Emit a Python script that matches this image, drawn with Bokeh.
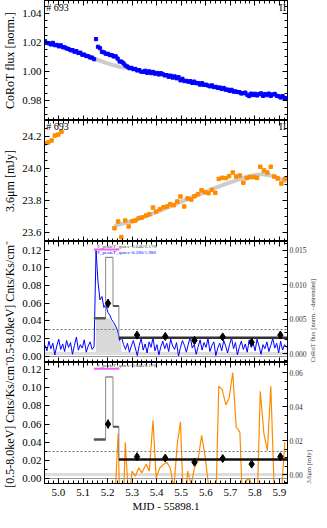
import math
from bokeh.plotting import figure
from bokeh.models import (Range1d, LinearAxis, SingleIntervalTicker, PrintfTickFormatter,
                          CustomJSTickFormatter, Label)
from bokeh.layouts import column
from bokeh.embed import file_html
from bokeh.resources import INLINE

# ---------------- data ----------------
corot_t = [
    4.945, 4.953, 4.961, 4.969, 4.977, 4.985, 4.993, 5.001, 5.009, 5.017,
    5.025, 5.033, 5.041, 5.049, 5.057, 5.065, 5.073, 5.081, 5.089, 5.097,
    5.105, 5.113, 5.121, 5.129, 5.137, 5.145, 5.153, 5.161, 5.169, 5.177,
    5.185, 5.193, 5.201, 5.209, 5.217, 5.225, 5.233, 5.241, 5.249, 5.257,
    5.265, 5.273, 5.281, 5.289, 5.297, 5.305, 5.313, 5.321, 5.329, 5.337,
    5.345, 5.353, 5.361, 5.369, 5.377, 5.385, 5.393, 5.401, 5.409, 5.417,
    5.425, 5.433, 5.441, 5.449, 5.457, 5.465, 5.473, 5.481, 5.489, 5.497,
    5.505, 5.513, 5.521, 5.529, 5.537, 5.545, 5.553, 5.561, 5.569, 5.577,
    5.585, 5.593, 5.601, 5.609, 5.617, 5.625, 5.633, 5.641, 5.649, 5.657,
    5.665, 5.673, 5.681, 5.689, 5.697, 5.705, 5.713, 5.721, 5.729, 5.737,
    5.745, 5.753, 5.761, 5.769, 5.777, 5.785, 5.793, 5.801, 5.809, 5.817,
    5.825, 5.833, 5.841, 5.849, 5.857, 5.865, 5.873, 5.881, 5.889, 5.897,
    5.905, 5.913, 5.921, 5.929,
]
corot_flux = [
    1.0208, 1.0196, 1.0194, 1.0186, 1.0197, 1.0181, 1.0183, 1.0173, 1.0180, 1.0167,
    1.0166, 1.0158, 1.0155, 1.0146, 1.0147, 1.0136, 1.0139, 1.0127, 1.0129, 1.0115,
    1.0116, 1.0106, 1.0105, 1.0096, 1.0095, 1.0084, 1.0223, 1.0170, 1.0160, 1.0135,
    1.0131, 1.0122, 1.0121, 1.0113, 1.0112, 1.0103, 1.0104, 1.0088, 1.0068, 1.0067,
    1.0055, 1.0040, 1.0033, 1.0022, 1.0024, 1.0015, 1.0017, 1.0006, 1.0009, 0.9998,
    0.9996, 1.0004, 0.9990, 1.0000, 0.9988, 0.9996, 0.9984, 0.9989, 0.9978, 0.9987,
    0.9980, 0.9972, 0.9974, 0.9962, 0.9970, 0.9957, 0.9965, 0.9952, 0.9960, 0.9938,
    0.9948, 0.9933, 0.9934, 0.9928, 0.9932, 0.9920, 0.9929, 0.9918, 0.9919, 0.9908,
    0.9918, 0.9906, 0.9908, 0.9902, 0.9896, 0.9903, 0.9891, 0.9893, 0.9886, 0.9888,
    0.9878, 0.9885, 0.9873, 0.9874, 0.9865, 0.9872, 0.9860, 0.9861, 0.9857, 0.9856,
    0.9847, 0.9849, 0.9853, 0.9838, 0.9829, 0.9846, 0.9836, 0.9845, 0.9833, 0.9842,
    0.9848, 0.9830, 0.9843, 0.9835, 0.9846, 0.9830, 0.9840, 0.9844, 0.9831, 0.9828,
    0.9819, 0.9828, 0.9816, 0.9813,
]
corot_detrended = [
    0.0012, 0.0004, 0.0018, 0.0007, 0.0015, -0.0002, 0.0011, 0.0021, 0.0006, 0.0014,
    0.0003, 0.0019, 0.0009, 0.0016, -0.0001, 0.0012, 0.0024, 0.0005, 0.0013, 0.0008,
    0.0020, 0.0002, 0.0011, 0.0017, 0.0006, 0.0010, 0.0150, 0.0104, 0.0078, 0.0083,
    0.0067, 0.0072, 0.0060, 0.0056, 0.0049, 0.0045, 0.0040, 0.0033, 0.0019, 0.0024,
    0.0013, 0.0006, 0.0015, 0.0002, 0.0011, 0.0019, 0.0008, -0.0003, 0.0012, 0.0022,
    0.0005, 0.0014, 0.0001, 0.0017, 0.0009, 0.0023, 0.0004, 0.0013, -0.0002, 0.0010,
    0.0018, 0.0007, 0.0015, 0.0003, 0.0021, 0.0011, 0.0006, 0.0016, -0.0004, 0.0009,
    0.0019, 0.0012, 0.0002, 0.0014, 0.0024, 0.0008, 0.0013, -0.0001, 0.0010, 0.0020,
    0.0005, 0.0016, 0.0009, 0.0022, 0.0003, 0.0012, 0.0017, -0.0003, 0.0008, 0.0015,
    0.0004, 0.0019, 0.0011, 0.0001, 0.0013, 0.0023, 0.0007, 0.0016, -0.0002, 0.0010,
    0.0018, 0.0006, 0.0014, 0.0002, 0.0020, 0.0009, 0.0015, 0.0004, 0.0021, 0.0011,
    -0.0001, 0.0013, 0.0007, 0.0017, 0.0003, 0.0012, 0.0022, 0.0008, 0.0015, 0.0001,
    0.0018, 0.0005, 0.0013, 0.0009,
]
corot_trend_t = [5.145, 5.200, 5.250, 5.290]
corot_trend_f = [1.0087, 1.0055, 1.0030, 1.0022]

spitzer_t = [
    4.944, 4.958, 4.972, 4.985, 4.999, 5.012,
    5.228, 5.243, 5.256, 5.272, 5.286, 5.300, 5.313, 5.327, 5.340, 5.357,
    5.370, 5.385, 5.398, 5.413, 5.428, 5.442, 5.455, 5.470, 5.484, 5.497,
    5.512, 5.526, 5.541, 5.554, 5.568, 5.583, 5.596, 5.611, 5.625, 5.639,
    5.653, 5.667, 5.682, 5.695, 5.710, 5.724, 5.739, 5.753, 5.767, 5.780,
    5.796, 5.809, 5.822, 5.837, 5.851, 5.865, 5.879, 5.893, 5.908, 5.922,
]
spitzer_flux = [
    24.158, 24.163, 24.175, 24.206, 24.212, 24.230,
    23.627, 23.669, 23.571, 23.675, 23.638, 23.671, 23.675, 23.690, 23.694, 23.706,
    23.714, 23.756, 23.731, 23.746, 23.758, 23.763, 23.777, 23.771, 23.794, 23.825,
    23.763, 23.813, 23.806, 23.827, 23.840, 23.864, 23.852, 23.846, 23.867, 23.848,
    23.935, 23.942, 23.940, 23.952, 23.975, 23.950, 23.956, 23.911, 23.940, 23.946,
    23.946, 23.942, 24.011, 23.988, 23.975, 24.011, 23.950, 23.938, 23.906, 23.935,
]
spitzer_resid_t = spitzer_t[6:]
spitzer_resid = [
    -0.020, 0.024, -0.060, 0.019, -0.015, 0.002, -0.001, 0.004, 0.001, 0.006,
    0.002, 0.032, -0.002, 0.004, 0.006, 0.007, 0.004, -0.008, 0.018, 0.031,
    -0.030, 0.002, -0.006, 0.004, 0.008, 0.023, 0.012, -0.006, -0.010, -0.030,
    0.052, 0.050, 0.041, 0.045, 0.060, 0.028, 0.025, -0.030, -0.003, -0.003,
    -0.010, -0.020, 0.049, 0.024, 0.014, 0.052, -0.010, -0.020, -0.012, 0.019,
]
spitzer_model_t = [5.228, 5.300, 5.394, 5.530, 5.665, 5.774, 5.828, 5.868, 5.930]
spitzer_model_f = [23.642, 23.672, 23.725, 23.812, 23.895, 23.952, 23.965, 23.955, 23.920]

# X-ray binned light curve
xray_edges = [5.144, 5.192, 5.222, 5.246, 5.933]
xray_rate = [0.043, 0.112, 0.057, 0.021]
xray_width = [2.5, 1.0, 2.0, 2.5]
xray_color = ["#555555", "#888888", "#555555", "#222222"]
xray_pt_t = [5.202, 5.320, 5.435, 5.554, 5.669, 5.787, 5.904]
xray_pt_r = [0.060, 0.024, 0.0225, 0.018, 0.022, 0.0158, 0.024]
xray_pt_e = [0.005, 0.003, 0.003, 0.004, 0.003, 0.003, 0.004]
xray_fill_t = [5.153, 5.195, 5.205, 5.215, 5.225, 5.235, 5.245, 5.256]
xray_fill_top = [0.043, 0.043, 0.043, 0.040, 0.036, 0.031, 0.022, 0.015]
xray_fill_base = 0.0035
xray_quiescent = 0.03
flare_t = [5.144, 5.248]
flare_level = [0.121, 0.121]

FONT = "Liberation Serif"
FRAME_W = 243
xr = Range1d(4.943, 5.933)
BLANK = CustomJSTickFormatter(code="return ''")


def styled_axis(interval, minor, fmt=None, labels=False, size="11px",
                label=None, label_size="12px", y_range_name=None, color="black"):
    kw = {}
    if y_range_name:
        kw["y_range_name"] = y_range_name
    ax = LinearAxis(ticker=SingleIntervalTicker(interval=interval, num_minor_ticks=minor), **kw)
    ax.major_tick_in = 5
    ax.major_tick_out = 0
    ax.minor_tick_in = 3
    ax.minor_tick_out = 0
    ax.axis_line_color = "black"
    ax.major_tick_line_color = "black"
    ax.minor_tick_line_color = "black"
    ax.major_label_text_font = FONT
    ax.major_label_text_color = color
    if labels:
        ax.formatter = PrintfTickFormatter(format=fmt)
        ax.major_label_text_font_size = size
        ax.major_label_standoff = 3
    else:
        ax.formatter = BLANK
        ax.major_label_text_font_size = "1px"
        ax.major_label_standoff = 0
    if label:
        ax.axis_label = label
        ax.axis_label_text_font = FONT
        ax.axis_label_text_font_style = "normal"
        ax.axis_label_text_font_size = label_size
        ax.axis_label_text_color = color
        ax.axis_label_standoff = 2
    return ax


def right_axis(interval, minor, fmt, label):
    ax = styled_axis(interval, minor, fmt, True, size="7.5px", label=label,
                     label_size="6.5px", y_range_name="right", color="#333333")
    ax.major_label_standoff = 2
    ax.axis_label_standoff = 3
    ax.axis_label_orientation = math.pi / 2
    ax.axis_label_align = "start"
    return ax


def make_fig(frame_h, yr, top=0, right=2):
    p = figure(frame_width=FRAME_W, frame_height=frame_h, x_range=xr, y_range=yr,
               output_backend="svg", toolbar_location=None,
               x_axis_type=None, y_axis_type=None,
               min_border_left=41, min_border_right=right,
               min_border_top=top, min_border_bottom=0)
    p.outline_line_color = "black"
    p.outline_line_width = 1
    p.background_fill_color = "white"
    p.border_fill_color = "white"
    return p


# ---------------- panel 1 ----------------
p1 = make_fig(120, Range1d(0.966, 1.049), top=0)
p1.add_layout(styled_axis(0.02, 4, "%.2f", True, label="CoRoT flux [norm.]"), "left")
p1.add_layout(styled_axis(0.02, 4), "right")
p1.add_layout(styled_axis(0.1, 5), "above")
p1.add_layout(styled_axis(0.1, 5), "below")
p1.line(corot_trend_t, corot_trend_f, line_color="#cccccc", line_width=4)
p1.scatter(corot_t, corot_flux, marker="square", size=3.2, color="#0000ff")
p1.add_layout(Label(x=4.950, y=1.048, text="# 693", text_baseline="top",
                    text_font=FONT, text_font_size="10px", text_color="black"))
p1.add_layout(Label(x=5.927, y=1.048, text="II", text_baseline="top", text_align="right",
                    text_font=FONT, text_font_size="10px", text_color="black"))

# ---------------- panel 2 ----------------
p2 = make_fig(121, Range1d(23.544, 24.30))
p2.add_layout(styled_axis(0.2, 4, "%.1f", True, label="3.6μm [mJy]"), "left")
p2.add_layout(styled_axis(0.2, 4), "right")
p2.add_layout(styled_axis(0.1, 5), "above")
p2.add_layout(styled_axis(0.1, 5), "below")
p2.line(spitzer_model_t, spitzer_model_f, line_color="#cccccc", line_width=4)
p2.scatter(spitzer_t, spitzer_flux, marker="square", size=3.5, color="#ff8c00")
p2.add_layout(Label(x=4.950, y=24.298, text="# 693", text_baseline="top",
                    text_font=FONT, text_font_size="10px", text_color="black"))
p2.add_layout(Label(x=5.927, y=24.298, text="II", text_baseline="top", text_align="right",
                    text_font=FONT, text_font_size="10px", text_color="black"))


def xray_layers(p, last_color):
    p.hspan(y=[0.0], line_color="#999999", line_width=1)
    p.hspan(y=[xray_quiescent], line_color="#777777", line_width=1, line_dash="2 2")
    p.step(xray_edges, xray_rate + [xray_rate[-1]], mode="after",
           line_color="#888888", line_width=1)
    cols = xray_color[:-1] + [last_color]
    p.segment(x0=xray_edges[:-1], x1=xray_edges[1:], y0=xray_rate, y1=xray_rate,
              line_color=cols, line_width=xray_width)
    lo = [r - e for r, e in zip(xray_pt_r, xray_pt_e)]
    hi = [r + e for r, e in zip(xray_pt_r, xray_pt_e)]
    p.segment(x0=xray_pt_t, x1=xray_pt_t, y0=lo, y1=hi, line_color="black", line_width=1.5)
    p.scatter(xray_pt_t, xray_pt_r, marker="diamond", size=8, color="black")
    p.line(flare_t, flare_level, line_color="#f060f0", line_width=2)


XLABEL = "[0.5-8.0keV] Cnts/Ks/cm⁻²"

# ---------------- panel 3 ----------------
p3 = make_fig(121, Range1d(-0.007, 0.130), right=2)
p3.extra_y_ranges = {"right": Range1d(-0.0013, 0.0163)}
p3.add_layout(styled_axis(0.02, 2, "%.2f", True, label=XLABEL), "left")
p3.add_layout(right_axis(0.005, 5, "%.3f", "CoRoT flux [norm. - detrended]"), "right")
p3.add_layout(styled_axis(0.1, 5), "above")
p3.add_layout(styled_axis(0.1, 5), "below")
p3.varea(x=xray_fill_t, y1=[xray_fill_base] * len(xray_fill_t), y2=xray_fill_top,
         fill_color="#d9d9d9")
p3.hspan(y=[0.0], line_color="#dddddd", line_width=3, y_range_name="right")
p3.line(corot_t, corot_detrended, line_color="#0000ff", line_width=1, y_range_name="right")
xray_layers(p3, "#333333")
p3.add_layout(Label(x=5.158, y=0.1245, text="F_peak/F_quies=0.646/0.170", text_baseline="middle",
                    text_font=FONT, text_font_size="5px", text_color="#444444"))
p3.add_layout(Label(x=5.158, y=0.1175, text="F_peak/F_quies=6.280/1.980", text_baseline="middle",
                    text_font=FONT, text_font_size="5px", text_color="#0000ff"))

# ---------------- panel 4 ----------------
p4 = make_fig(121, Range1d(-0.0056, 0.128), right=2)
p4.extra_y_ranges = {"right": Range1d(-0.0053, 0.066)}
p4.add_layout(styled_axis(0.02, 2, "%.2f", True, label=XLABEL), "left")
p4.add_layout(right_axis(0.02, 4, "%.2f", "3.6μm [mJy]"), "right")
p4.add_layout(styled_axis(0.1, 5), "above")
ax4b = styled_axis(0.1, 5, "%.1f", True, size="11px", label="MJD - 55898.1", label_size="11px")
ax4b.major_label_standoff = 5
ax4b.axis_label_standoff = 1
p4.add_layout(ax4b, "below")
p4.hspan(y=[0.0], line_color="#dddddd", line_width=3, y_range_name="right")
p4.line(spitzer_resid_t, spitzer_resid, line_color="#ff8c00", line_width=1.2, y_range_name="right")
xray_layers(p4, "#111111")
p4.add_layout(Label(x=5.158, y=0.1245, text="F_peak/F_quies=0.646/0.170", text_baseline="middle",
                    text_font=FONT, text_font_size="5px", text_color="#444444"))

layout = column(p1, p2, p3, p4)
open("out.html", "w").write(file_html(layout, INLINE))
